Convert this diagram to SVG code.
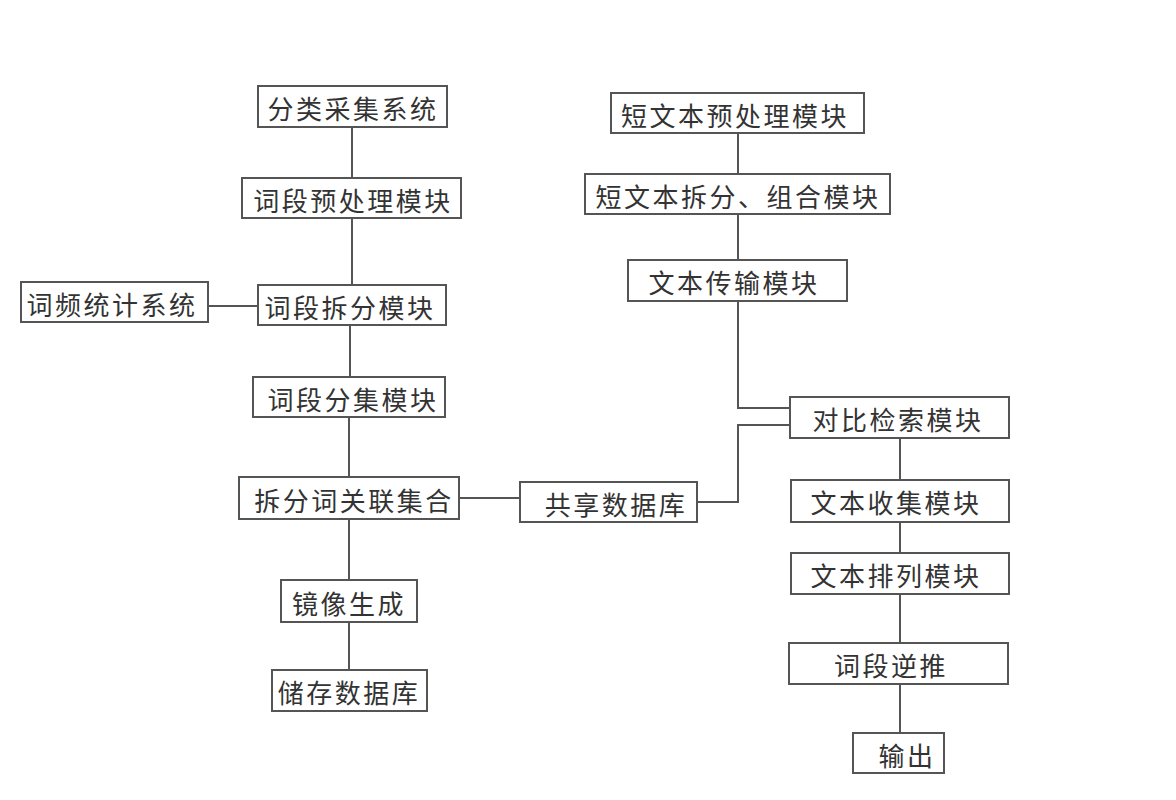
<svg xmlns="http://www.w3.org/2000/svg" width="1176" height="800" viewBox="0 0 1176 800">
<style>
rect.b{fill:#fff;stroke:#555;stroke-width:2}
text{font-family:"Noto Sans CJK SC","Noto Sans",sans-serif;font-size:26px;fill:#333;text-anchor:middle;dominant-baseline:central;letter-spacing:2.5px}
#connectors path{fill:none;stroke:#555;stroke-width:2}
</style>
<rect width="1176" height="800" fill="#fff"/>
<g id="connectors">
<path d="M352 127V178"/>
<path d="M352 218V285"/>
<path d="M208 306H258"/>
<path d="M350 325V377"/>
<path d="M349 417V477"/>
<path d="M459 498H520"/>
<path d="M349 519V580"/>
<path d="M349 622V670"/>
<path d="M738 133V174"/>
<path d="M738 214V260"/>
<path d="M738 301V408H790"/>
<path d="M697 502H738V425H790"/>
<path d="M900 438V480"/>
<path d="M900 522V553"/>
<path d="M900 594V643"/>
<path d="M900 684V733"/>
</g>
<g id="n1"><rect class="b" x="258" y="86" width="189" height="41"/><text x="353" y="107">分类采集系统</text></g>
<g id="n2"><rect class="b" x="242" y="178" width="219" height="40"/><text x="353" y="199">词段预处理模块</text></g>
<g id="n3"><rect class="b" x="21" y="282" width="187" height="40"/><text x="112" y="303">词频统计系统</text></g>
<g id="n4"><rect class="b" x="258" y="285" width="188" height="40"/><text x="350" y="306">词段拆分模块</text></g>
<g id="n5"><rect class="b" x="253" y="377" width="192" height="40"/><text x="353" y="398">词段分集模块</text></g>
<g id="n6"><rect class="b" x="239" y="477" width="220" height="42"/><text x="354" y="499">拆分词关联集合</text></g>
<g id="n7"><rect class="b" x="520" y="482" width="177" height="40"/><text x="616" y="503">共享数据库</text></g>
<g id="n8"><rect class="b" x="281" y="580" width="136" height="42"/><text x="349" y="602">镜像生成</text></g>
<g id="n9"><rect class="b" x="272" y="670" width="155" height="41"/><text x="349" y="691">储存数据库</text></g>
<g id="n10"><rect class="b" x="611" y="93" width="253" height="40"/><text x="735" y="114">短文本预处理模块</text></g>
<g id="n11"><rect class="b" x="585" y="174" width="305" height="40"/><text x="738" y="195">短文本拆分、组合模块</text></g>
<g id="n12"><rect class="b" x="628" y="260" width="219" height="41"/><text x="734" y="281">文本传输模块</text></g>
<g id="n13"><rect class="b" x="790" y="397" width="219" height="41"/><text x="898" y="418">对比检索模块</text></g>
<g id="n14"><rect class="b" x="791" y="480" width="218" height="42"/><text x="896" y="501">文本收集模块</text></g>
<g id="n15"><rect class="b" x="791" y="553" width="218" height="41"/><text x="896" y="574">文本排列模块</text></g>
<g id="n16"><rect class="b" x="789" y="643" width="219" height="41"/><text x="891" y="664">词段逆推</text></g>
<g id="n17"><rect class="b" x="853" y="733" width="91" height="40"/><text x="907" y="754">输出</text></g>
</svg>
